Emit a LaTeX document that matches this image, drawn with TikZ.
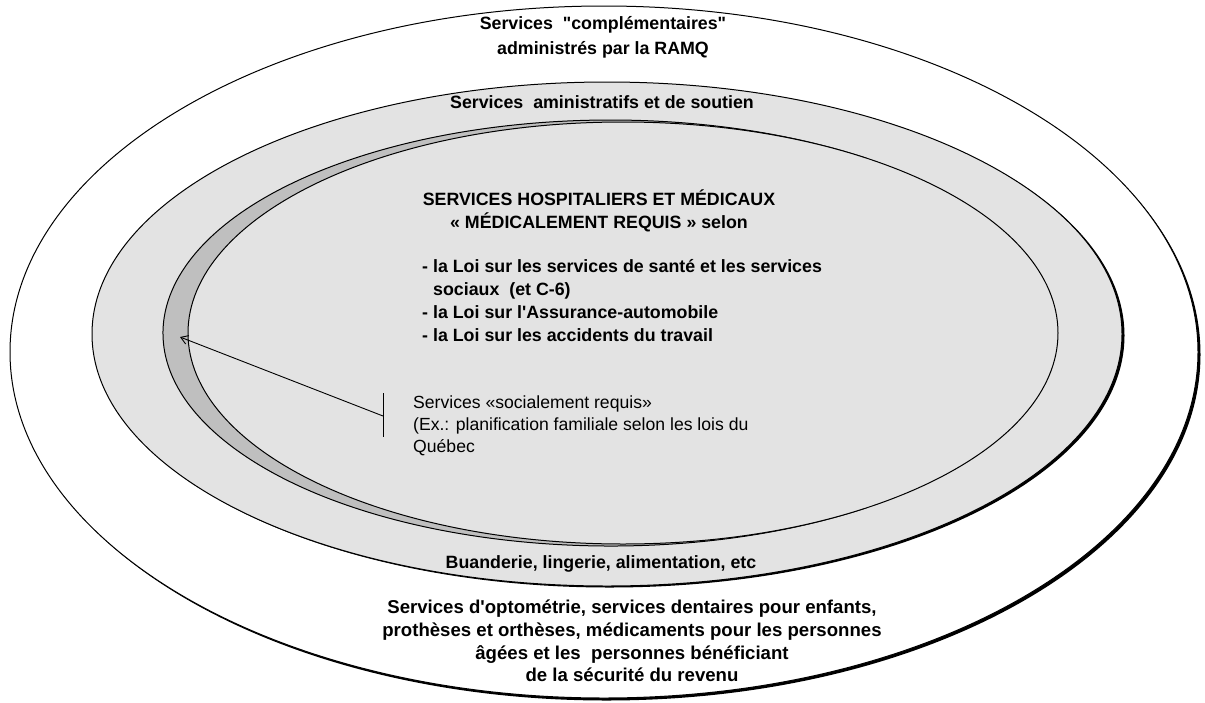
\documentclass[tikz,border=0pt]{standalone}
\usepackage{fontspec}
\setmainfont{Liberation Sans}
\usetikzlibrary{arrows.meta}
\definecolor{ringgray}{gray}{0.89}
\definecolor{crescgray}{gray}{0.75}
\begin{document}
\begin{tikzpicture}[x=1pt,y=-1pt,
  ring/.style={draw=black,line width=1pt},
  shadow/.style={fill=black},
  lbl/.style={font=\fontsize{17.8}{23}\selectfont\bfseries,align=center,inner sep=0pt},
  biglbl/.style={font=\fontsize{18.6}{22.7}\selectfont\bfseries,align=center,inner sep=0pt},
  plain/.style={font=\fontsize{17.6}{22}\selectfont,align=left,inner sep=0pt},
  pointer/.style={draw=black,line width=0.9pt},
  tipstyle/.style={-{Straight Barb[length=7pt,width=9pt]}}]
\useasboundingbox (0,0) rectangle (1205,702);
% outer ellipse with shadow
\fill[shadow] (606.5,354.5) ellipse [x radius=594, y radius=346];
\draw[ring,fill=white] (604,352) ellipse [x radius=594, y radius=346];
% middle ellipse with shadow
\fill[shadow] (609.5,335.5) ellipse [x radius=515, y radius=252];
\draw[ring,fill=ringgray] (607,334) ellipse [x radius=515, y radius=252];
% crescent
\fill[crescgray] (610.5,333) ellipse [x radius=447.5, y radius=213];
\draw[ring] ([shift={(55:447.5 and 213)}]610.5,333) arc [start angle=55, end angle=305, x radius=447.5, y radius=213];
% inner ellipse
\draw[ring,fill=ringgray] (623,333) ellipse [x radius=435, y radius=211];
% texts
\node[lbl] (ramq) at (603,37) {Services \ \textquotedbl complémentaires\textquotedbl\\[2pt]administrés par la RAMQ};
\node[lbl] (admin) at (602,102) {Services \ aministratifs et de soutien};
\node[lbl] (titre) at (599,211) {SERVICES HOSPITALIERS ET MÉDICAUX\\« MÉDICALEMENT REQUIS » selon};
\node[lbl,align=left,anchor=north west] (lois) at (422,259) {- la Loi sur les services de santé et les services\\\hspace*{11pt}sociaux \ (et C-6)\\- la Loi sur l\textquotesingle Assurance-automobile\\- la Loi sur les accidents du travail};
\node[lbl] (buand) at (601,564) {Buanderie, lingerie, alimentation, etc};
\node[biglbl] (optom) at (632,641) {Services d\textquotesingle optométrie, services dentaires pour enfants,\\prothèses et orthèses, médicaments pour les personnes\\âgées et les \ personnes bénéficiant\\de la sécurité du revenu};
\node[plain,anchor=north west] (social) at (413,396) {Services «socialement requis»\\(Ex.: planification familiale selon les lois du\\Québec};
% pointer
\coordinate (bartop) at (383,393);
\coordinate (barbot) at (383,437);
\coordinate (barmid) at (383,416);
\coordinate (tip) at (180,337);
\draw[pointer] (bartop) -- (barbot);
\draw[pointer,tipstyle] (barmid) -- (tip);
\end{tikzpicture}
\end{document}
